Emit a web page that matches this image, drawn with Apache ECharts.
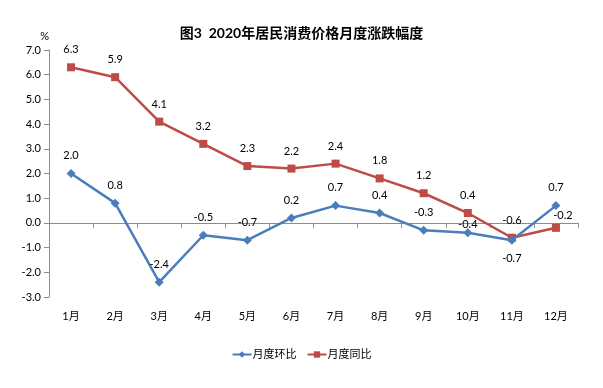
<!DOCTYPE html>
<html><head><meta charset="utf-8">
<script src="https://cdn.jsdelivr.net/npm/echarts@6/dist/echarts.min.js"></script>
<style>html,body{margin:0;padding:0;background:#fff}#c{width:603px;height:388px}</style>
</head><body><div id="c"></div>
<script>
const categories = ['1月','2月','3月','4月','5月','6月','7月','8月','9月','10月','11月','12月'];
const momValues = [2.0, 0.8, -2.4, -0.5, -0.7, 0.2, 0.7, 0.4, -0.3, -0.4, -0.7, 0.7];
const yoyValues = [6.3, 5.9, 4.1, 3.2, 2.3, 2.2, 2.4, 1.8, 1.2, 0.4, -0.6, -0.2];
const seriesNames = ['月度环比', '月度同比'];
const font = 'Lato, "Noto Sans CJK SC", sans-serif';
const chart = echarts.init(document.getElementById('c'));
const momData = momValues.map((v, i) => {
  if (i === 10) return { value: v, label: { position: 'bottom' } };
  if (i === 9) return { value: v, label: { distance: -2 } };
  return v;
});
const yoyData = yoyValues.map((v, i) => {
  if (i === 11) return { value: v, label: { distance: 3, offset: [7, 0] } };
  return v;
});
chart.setOption({
  animation: false,
  title: { text: '图3  2020年居民消费价格月度涨跌幅度', left: 'center', top: 21,
    textStyle: { fontSize: 14, fontWeight: 'bold', color: '#000', fontFamily: font } },
  legend: { bottom: 23, left: 'center', itemWidth: 19, itemHeight: 8, itemGap: 10,
    textStyle: { fontSize: 11, color: '#000', fontFamily: font, padding: [0, 0, 0, -4] },
    data: seriesNames },
  grid: { left: 49, right: 25, top: 50, bottom: 91 },
  xAxis: { type: 'category', data: categories, boundaryGap: true,
    axisLine: { lineStyle: { color: '#8c8c8c' } },
    axisTick: { show: true, alignWithLabel: false, length: 5, lineStyle: { color: '#8c8c8c' } },
    axisLabel: { color: '#000', fontSize: 11, margin: 14, fontFamily: font } },
  yAxis: { type: 'value', min: -3, max: 7, interval: 1, name: '%', nameGap: 6,
    nameTextStyle: { color: '#000', fontSize: 11, fontFamily: font, align: 'right', padding: [0, 0, 2, 0] },
    axisLine: { show: true, lineStyle: { color: '#8c8c8c' } },
    axisTick: { show: true, length: 5, lineStyle: { color: '#8c8c8c' } },
    splitLine: { show: false },
    axisLabel: { color: '#000', fontSize: 11, margin: 8, fontFamily: font, formatter: v => v.toFixed(1) } },
  series: [
    { name: seriesNames[0], type: 'line', data: momData, z: 3,
      symbol: 'diamond', symbolSize: 9, itemStyle: { color: '#4A7EBB' }, lineStyle: { width: 2.5, color: '#4A7EBB' },
      label: { show: true, position: 'top', distance: 8, color: '#000', fontSize: 11, fontFamily: font, formatter: p => p.value.toFixed(1) } },
    { name: seriesNames[1], type: 'line', data: yoyData, z: 2,
      symbol: 'rect', symbolSize: 8, itemStyle: { color: '#BE4B48' }, lineStyle: { width: 2.5, color: '#BE4B48' },
      label: { show: true, position: 'top', distance: 8, color: '#000', fontSize: 11, fontFamily: font, formatter: p => p.value.toFixed(1) } }
  ]
});
</script></body></html>
